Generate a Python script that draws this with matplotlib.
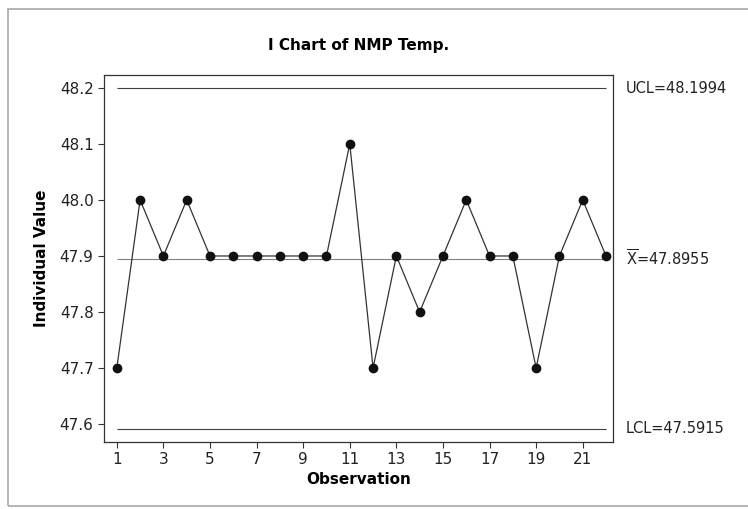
import matplotlib
matplotlib.use("Agg")
import matplotlib.pyplot as plt
from matplotlib.patches import Rectangle

observations = list(range(1, 23))
values = [47.7, 48.0, 47.9, 48.0, 47.9, 47.9, 47.9, 47.9, 47.9, 47.9, 48.1,
          47.7, 47.9, 47.8, 47.9, 48.0, 47.9, 47.9, 47.7, 47.9, 48.0, 47.9]
ucl = 48.1994
center = 47.8955
lcl = 47.5915
yticks = [47.6, 47.7, 47.8, 47.9, 48.0, 48.1, 48.2]
xticks = list(range(1, 23, 2))

plt.rcParams['font.family'] = ['DejaVu Sans']
fig = plt.figure(figsize=(7.48, 5.09), dpi=100)
W, H = 748, 509
ax = fig.add_axes([104 / W, 1 - 442 / H, (613 - 104) / W, (442 - 75) / H])

# outer frame (right edge runs past the image)
fig.patches.append(Rectangle((8 / W, 1 - 506 / H), (760 - 8) / W, (506 - 9) / H,
                             transform=fig.transFigure, fill=False,
                             edgecolor='#a8a8a8', linewidth=1.2, clip_on=False))

ax.hlines([ucl, lcl], 1, 22, colors='#404040', linewidth=0.8)
ax.hlines([center], 1, 22, colors='#808080', linewidth=0.8)
ax.plot(observations, values, color='#333333', linewidth=0.9,
        marker='o', markersize=6, markerfacecolor='#111111',
        markeredgecolor='#111111')

ax.set_xlim(0.45, 22.3)
ax.set_ylim(47.568, 48.223)
ax.set_xticks(xticks)
ax.set_yticks(yticks)
ax.set_yticklabels([f"{v:.1f}" for v in yticks])
ax.tick_params(axis='both', labelsize=11, color='#333333', length=4,
               width=0.8, labelcolor='#222222')
for s in ax.spines.values():
    s.set_color('#333333')
    s.set_linewidth(0.9)

ax.set_title('I Chart of NMP Temp.', fontsize=11, fontweight='bold', pad=18)
ax.set_xlabel('Observation', fontsize=11, fontweight='bold', labelpad=3)
ax.set_ylabel('Individual Value', fontsize=11, fontweight='bold', labelpad=8)

ax.text(1.025, ucl, 'UCL=48.1994', transform=ax.get_yaxis_transform(),
        va='center', ha='left', fontsize=10.5, color='#222222')
ax.text(1.025, center, r'$\overline{\mathrm{X}}$=47.8955', transform=ax.get_yaxis_transform(),
        va='center', ha='left', fontsize=10.5, color='#222222')
ax.text(1.025, lcl, 'LCL=47.5915', transform=ax.get_yaxis_transform(),
        va='center', ha='left', fontsize=10.5, color='#222222')

fig.savefig('out.png', dpi=100)
